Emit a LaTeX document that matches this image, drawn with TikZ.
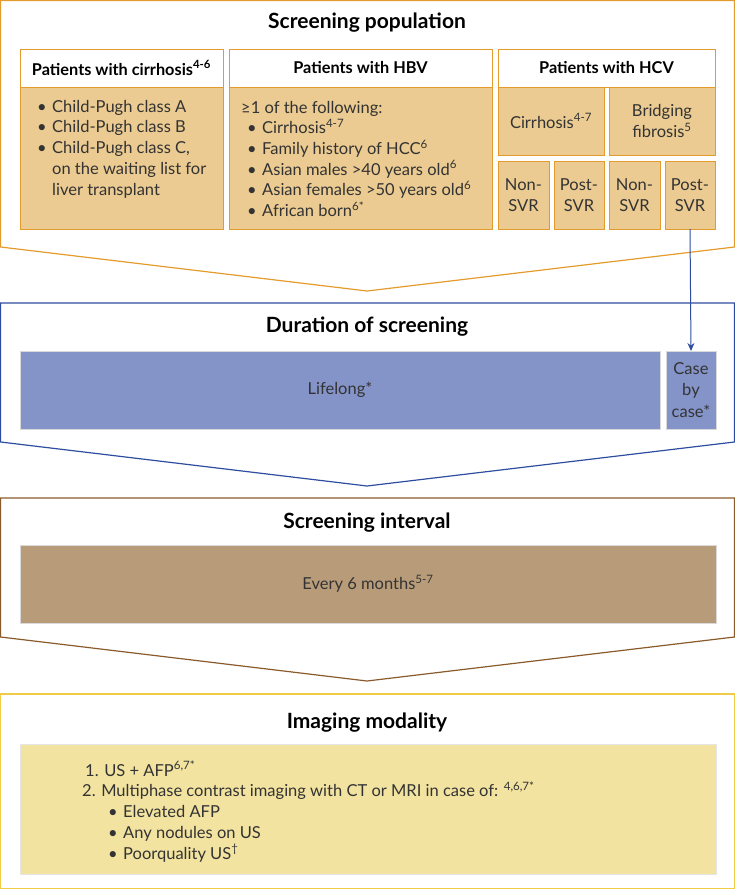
\documentclass[tikz,border=0pt]{standalone}
\usepackage{fontspec}
\setmainfont{Lato}
\usetikzlibrary{arrows.meta}
\definecolor{orng}{HTML}{E39B2E}
\definecolor{tanf}{HTML}{EBCB91}
\definecolor{blu}{HTML}{2E4DA0}
\definecolor{bluf}{HTML}{8494C9}
\definecolor{brn}{HTML}{8A5A2B}
\definecolor{brnf}{HTML}{B89C7A}
\definecolor{ylw}{HTML}{F0CB45}
\definecolor{ylwf}{HTML}{F3E3A0}
\definecolor{txt}{HTML}{333333}
\newcommand{\blt}{\makebox[15pt][l]{\textbullet}}
\begin{document}
\begin{tikzpicture}[x=1pt,y=-1pt,
  sec/.style={line width=1.2pt},
  ttl/.style={font=\fontsize{21}{25}\selectfont\bfseries, text=black, inner sep=0},
  box/.style={anchor=north west, inner sep=0, outer sep=0, align=center, text=txt,
     font=\fontsize{16.5}{21.5}\selectfont},
  hdr/.style={box, draw=orng, fill=white, line width=0.8pt, text=black,
     font=\fontsize{16.3}{19}\selectfont\bfseries},
  tan/.style={box, draw=orng, fill=tanf, line width=0.8pt},
  bbox/.style={box, draw=white!85!black, fill=bluf, line width=0.5pt},
  brbox/.style={box, draw=white!85!black, fill=brnf, line width=0.5pt},
  ybox/.style={box, draw=white!90!black, fill=ylwf, line width=0.5pt},
  list/.style={anchor=base west, inner sep=0, align=left, text=txt,
     font=\fontsize{16.5}{20.7}\selectfont}
]
\useasboundingbox (0,0) rectangle (735,889);

% section outlines
\draw[sec, orng] (0.6,0.6) -- (734.4,0.6) -- (734.4,247) -- (367,291) -- (0.6,247) -- cycle;
\draw[sec, blu] (0.6,303) -- (734.4,303) -- (734.4,442) -- (367,486) -- (0.6,442) -- cycle;
\draw[sec, brn] (0.6,498) -- (734.4,498) -- (734.4,637) -- (367,681) -- (0.6,637) -- cycle;
\draw[sec, ylw] (0.6,694) rectangle (734.4,888.4);

% titles
\node[ttl] (t1) at (367,23) {Screening population};
\node[ttl] (t2) at (367,327) {Duration of screening};
\node[ttl] (t3) at (367,523) {Screening interval};
\node[ttl] (t4) at (367,723) {Imaging modality};

% screening population boxes
\node[hdr, minimum width=203pt, minimum height=38pt] (cirrH) at (20,49) {Patients with cirrhosis\textsuperscript{4-6}};
\node[tan, minimum width=203pt, minimum height=142pt] (cirrB) at (20,87) {};
\node[hdr, minimum width=263pt, minimum height=38pt] (hbvH) at (229,49) {Patients with HBV};
\node[tan, minimum width=263pt, minimum height=142pt] (hbvB) at (229,87) {};
\node[hdr, minimum width=217pt, minimum height=38pt] (hcvH) at (498,49) {Patients with HCV};
\node[tan, minimum width=106pt, minimum height=68pt] (hcvC) at (498,87) {Cirrhosis\textsuperscript{4-7}};
\node[tan, minimum width=106pt, minimum height=68pt] (hcvF) at (609,87) {Bridging\\fibrosis\textsuperscript{5}};
\node[tan, minimum width=51pt, minimum height=68pt] (n1) at (498,161) {Non-\\SVR};
\node[tan, minimum width=50pt, minimum height=68pt] (p1) at (554,161) {Post-\\SVR};
\node[tan, minimum width=51pt, minimum height=68pt] (n2) at (609,161) {Non-\\SVR};
\node[tan, minimum width=50pt, minimum height=68pt] (p2) at (665,161) {Post-\\SVR};

\node[list] (cirrL) at (37,195) {\blt Child-Pugh class A\\
\blt Child-Pugh class B\\
\blt Child-Pugh class C,\\
\hspace*{15pt}on the waiting list for\\
\hspace*{15pt}liver transplant};

\node[list] (hbvL) at (241,216.5) {≥1 of the following:\\
\hspace*{6pt}\blt Cirrhosis\textsuperscript{4-7}\\
\hspace*{6pt}\blt Family history of HCC\textsuperscript{6}\\
\hspace*{6pt}\blt Asian males >40 years old\textsuperscript{6}\\
\hspace*{6pt}\blt Asian females >50 years old\textsuperscript{6}\\
\hspace*{6pt}\blt African born\textsuperscript{6*}};

% duration
\node[bbox, minimum width=640pt, minimum height=78pt] (life) at (20,351) {Lifelong*};
\node[bbox, minimum width=50pt, minimum height=78pt] (case) at (666,351) {Case\\by\\case*};

% interval
\node[brbox, minimum width=696pt, minimum height=78pt] (intv) at (20,545) {Every 6 months\textsuperscript{5-7}};

% imaging
\node[ybox, minimum width=696pt, minimum height=130pt] (img) at (20,744) {};
\node[list] (imgL) at (82,859) {\hspace*{3pt}1. US + AFP\textsuperscript{6,7*}\\
2. Multiphase contrast imaging with CT or MRI in case of: \textsuperscript{4,6,7*}\\
\hspace*{26pt}\blt Elevated AFP\\
\hspace*{26pt}\blt Any nodules on US\\
\hspace*{26pt}\blt Poorquality US\textsuperscript{\textdagger}};

% arrow
\draw[blu, line width=1pt, -{Stealth[length=8pt,width=7pt]}] (p2.south) -- (case.north);
\end{tikzpicture}
\end{document}
